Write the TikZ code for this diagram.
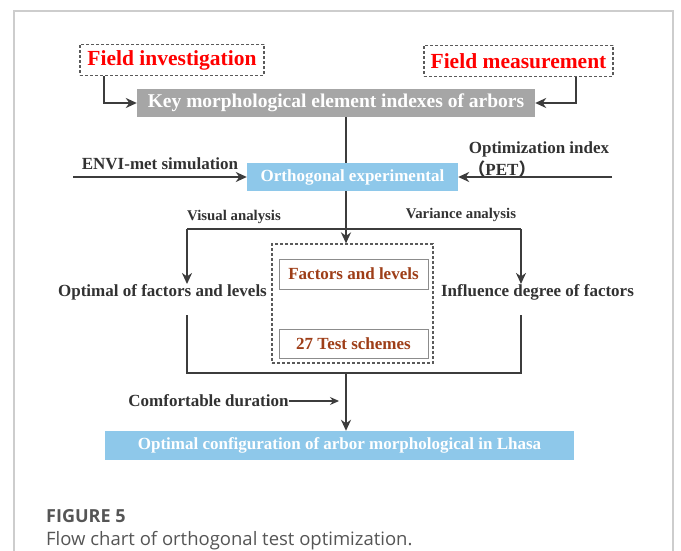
\documentclass[tikz,border=0pt]{standalone}
\usepackage{fontspec}
\setmainfont{Liberation Serif}
\newfontfamily\cjkfont{Noto Sans CJK SC}
\newfontfamily\capfont{Open Sans}
\usetikzlibrary{arrows.meta,calc}
\newcommand{\fsz}[1]{\fontsize{#1}{#1}\selectfont}
\definecolor{txt}{RGB}{50,50,50}
\definecolor{ln}{RGB}{60,60,60}
\definecolor{grayfill}{RGB}{166,166,166}
\definecolor{bluefill}{RGB}{142,200,234}
\definecolor{brown}{RGB}{158,62,24}
\definecolor{dashc}{RGB}{90,90,90}
\definecolor{fbord}{RGB}{140,140,140}
\definecolor{framec}{RGB}{205,205,205}
\definecolor{capc}{RGB}{85,85,85}
\tikzset{
  lbl/.style={inner sep=0pt, text=txt, font={\fsz{17}\bfseries}},
  smlbl/.style={inner sep=0pt, text=txt, font={\fsz{14.8}\bfseries}},
  dbox/.style={draw=dashc, line width=1.2pt, dash pattern=on 3pt off 2pt, inner sep=0pt},
  fieldtxt/.style={text=red, font={\fsz{21.5}\bfseries}},
  graybox/.style={fill=grayfill, draw=none, text=white, font={\fsz{19.5}\bfseries}, inner sep=0pt},
  bluebox/.style={fill=bluefill, draw=none, text=white, font={\fsz{17}\bfseries}, inner sep=0pt},
  fbox/.style={draw=fbord, line width=1pt, text=brown, font={\fsz{17}\bfseries}, inner sep=0pt, minimum width=149pt},
  line/.style={draw=ln, line width=2pt},
  arr/.style={draw=ln, line width=2pt, -{Stealth[length=11pt,width=10pt,inset=3.5pt]}},
  thinarr/.style={draw=ln, line width=1.3pt, -{Stealth[length=9pt,width=8pt,inset=3pt]}},
}
\begin{document}
\begin{tikzpicture}[x=1pt,y=-1pt]
\useasboundingbox (0,0) rectangle (681,551);
% outer frame
\draw[framec, line width=1.5pt] (14,551.5) -- (14,11) -- (673,11) -- (673,551.5);

% top row
\node[dbox, fieldtxt, minimum width=184pt, minimum height=31pt] (fi) at (172,60) {Field investigation};
\node[dbox, fieldtxt, minimum width=189pt, minimum height=31pt] (fm) at (518.5,61) {Field measurement};
\node[graybox, minimum width=398pt, minimum height=28pt] (key) at (336,103) {Key morphological element indexes of arbors};
\draw[arr] ([xshift=25pt]fi.south west) |- (key.west);
\draw[arr] ([xshift=-38pt]fm.south east) |- (key.east);

% orthogonal row
\coordinate (vx) at (346,0);
\node[bluebox, minimum width=211pt, minimum height=28pt] (orth) at (352.5,177) {Orthogonal experimental};
\draw[line] (key.south -| vx) -- (orth.north -| vx);
\node[lbl] (envi) at (160,164) {ENVI-met simulation};
\node[lbl] (opt) at (539,149) {Optimization index};
\node[lbl] (pet) at (502,169) {{\cjkfont （}PET{\cjkfont ）}};
\coordinate (ein) at (73,0);
\coordinate (oin) at (612,0);
\draw[arr] (ein |- orth.west) -- (orth.west);
\draw[arr] (oin |- orth.east) -- (orth.east);

% analysis split
\coordinate (hl) at (187,229);
\coordinate (hr) at (521,229);
\node[smlbl] (vis) at (234,217) {Visual analysis};
\node[smlbl] (var) at (461,215) {Variance analysis};
\node[dbox, minimum width=161pt, minimum height=119pt] (db) at (352.5,303.5) {};
\node[fbox, minimum height=30pt] (fl) at (353.5,274) {Factors and levels};
\node[fbox, minimum height=29pt] (ts) at (353.5,343.5) {27 Test schemes};
\node[lbl] (ofl) at (162.5,292) {Optimal of factors and levels};
\node[lbl] (idf) at (537.5,292) {Influence degree of factors};
\draw[line] (orth.south -| vx) -- (vx |- hl);
\draw[arr] (vx |- hl) -- (vx |- db.north);
\draw[line] (hl) -- (hr);
\draw[arr] (hl) -- (hl |- ofl.north);
\draw[arr] (hr) -- (hr |- idf.north);

% merge
\coordinate (ls) at (187,315);
\coordinate (rs) at (521,315);
\coordinate (bl) at (187,373);
\draw[line] (ls) |- (rs |- bl) -- (rs);
\node[bluebox, minimum width=469pt, minimum height=29pt] (fin) at (339.5,445.5) {Optimal configuration of arbor morphological in Lhasa};
\draw[arr] (vx |- bl) -- (vx |- fin.north);
\node[lbl] (cd) at (208.5,401) {Comfortable duration};
\coordinate (cda) at (339,0);
\draw[thinarr] (cd.east) -- (cd.east -| cda);

% caption
\node[anchor=west, inner sep=0pt, text=capc, font={\capfont\fsz{18}\bfseries}] (fig) at (46,516) {FIGURE 5};
\node[anchor=west, inner sep=0pt, text=capc, font={\capfont\fsz{18.5}}] (cap) at (46,541) {Flow chart of orthogonal test optimization.};
\end{tikzpicture}
\end{document}
